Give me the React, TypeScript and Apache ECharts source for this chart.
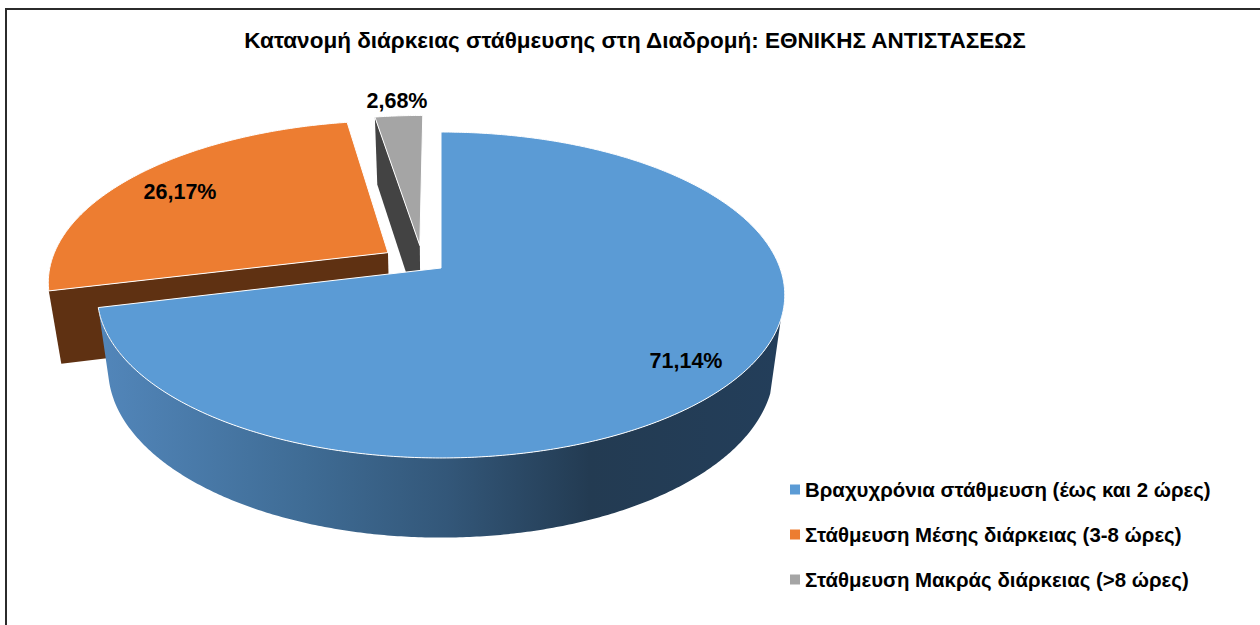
import React, { useEffect, useRef } from "react";
import * as echarts from "echarts";

const titleText = "Κατανομή διάρκειας στάθμευσης στη Διαδρομή: ΕΘΝΙΚΗΣ ΑΝΤΙΣΤΑΣΕΩΣ";
const categories = [
  "Βραχυχρόνια στάθμευση (έως και 2 ώρες)",
  "Στάθμευση Μέσης διάρκειας (3-8 ώρες)",
  "Στάθμευση Μακράς διάρκειας (>8 ώρες)",
];
const values = [71.14, 26.17, 2.68];
const faceColors = ["#5b9bd5", "#ed7d31", "#a5a5a5"];

const FONT = "'Liberation Sans', Arial, sans-serif";
const explode = [
  [0, 0],
  [-0.159, -0.0985],
  [-0.064, -0.145],
];
const labelPos = [
  [686, 361],
  [180, 192],
  [397, 101],
];
const CX = 441;
const topFace = { y0: 268, a: 339, b: 158.5, k: 0.1656 };
const baseFace = { y0: 340, a: 328, b: 164, k: 0.17 };
const total = values.reduce((s, v) => s + v, 0);

type Face = typeof topFace;
function project(f: Face, u: number, v: number): number[] {
  const d = 1 - f.k * v;
  return [CX + (f.a * u) / d, f.y0 + (f.b * v) / d];
}
function rim(f: Face, from: number, to: number, off: number[]): number[][] {
  const out: number[][] = [];
  const n = Math.max(1, Math.ceil(Math.abs(to - from) * 2));
  for (let i = 0; i <= n; i++) {
    const t = ((from + ((to - from) * i) / n) * Math.PI) / 180;
    out.push(project(f, Math.sin(t) + off[0], -Math.cos(t) + off[1]));
  }
  return out;
}
function rimPoint(f: Face, angle: number, off: number[]): number[] {
  const t = (angle * Math.PI) / 180;
  return project(f, Math.sin(t) + off[0], -Math.cos(t) + off[1]);
}

const blueWall = new echarts.graphic.LinearGradient(
  100,
  0,
  780,
  0,
  [
    { offset: 0, color: "#5286ba" },
    { offset: 0.3, color: "#3f6c95" },
    { offset: 0.51, color: "#335779" },
    { offset: 0.72, color: "#233b52" },
    { offset: 1, color: "#233e5a" },
  ],
  true,
);
const sideColors: any[] = [blueWall, "#5f3112", "#434343"];

function makeRender(idx: number) {
  return (_p: any, api: any) => {
    const before = values.slice(0, idx).reduce((s, v) => s + v, 0);
    const start = (before / total) * 360;
    const end = start + (api.value(0) / total) * 360;
    const off = explode[idx];
    const apexTop = project(topFace, off[0], off[1]);
    const apexBase = project(baseFace, off[0], off[1]);
    const face = [apexTop, ...rim(topFace, start, end, off)];
    // the blue slice shows its outer wall, the exploded slices show their cut face
    const wall =
      idx === 0
        ? [...rim(topFace, 108, end, off), ...rim(baseFace, end, 108, off)]
        : [apexTop, rimPoint(topFace, start, off), rimPoint(baseFace, start, off), apexBase];
    return {
      type: "group",
      children: [
        { type: "polygon", shape: { points: wall }, style: { fill: sideColors[idx] } },
        {
          type: "polygon",
          shape: { points: face },
          style: { fill: faceColors[idx], stroke: "#ffffff", lineWidth: 1, lineJoin: "round" },
        },
        {
          type: "text",
          x: labelPos[idx][0],
          y: labelPos[idx][1],
          z2: 10,
          style: {
            text: api.value(0).toFixed(2).replace(".", ",") + "%",
            fill: "#000000",
            font: `bold 21.5px ${FONT}`,
            textAlign: "center",
            textVerticalAlign: "middle",
          },
        },
      ],
    };
  };
}

export default function App() {
  const ref = useRef<HTMLDivElement>(null);
  useEffect(() => {
    document.body.style.margin = "0";
    const chart = echarts.init(ref.current!, null, { renderer: "svg" });
    chart.setOption({
      animation: false,
      backgroundColor: "#ffffff",
      title: {
        text: titleText,
        left: 630,
        top: 24,
        textAlign: "center",
        textStyle: { fontFamily: FONT, fontWeight: "bold", fontSize: 22.5, color: "#000000" },
      },
      legend: {
        orient: "vertical",
        left: 785,
        top: 472.5,
        icon: "rect",
        itemWidth: 10,
        itemHeight: 10,
        itemGap: 21,
        data: categories,
        textStyle: { fontFamily: FONT, fontWeight: "bold", fontSize: 20.4, color: "#000000", lineHeight: 24 },
        selectedMode: false,
      },
      graphic: [
        {
          type: "polyline",
          z: 0,
          shape: { points: [[6, 640], [6, 9], [1260, 9]] },
          style: { fill: "none", stroke: "#2b2b2b", lineWidth: 2 },
        },
      ],
      series: categories.map((name, i) => ({
        type: "custom",
        name,
        coordinateSystem: "none",
        renderItem: makeRender(i),
        data: [[values[i]]],
        z: i === 0 ? 4 : 3 - i,
        itemStyle: { color: faceColors[i] },
        silent: true,
      })),
    });
    return () => chart.dispose();
  }, []);
  return <div ref={ref} style={{ width: 1260, height: 625 }} />;
}
